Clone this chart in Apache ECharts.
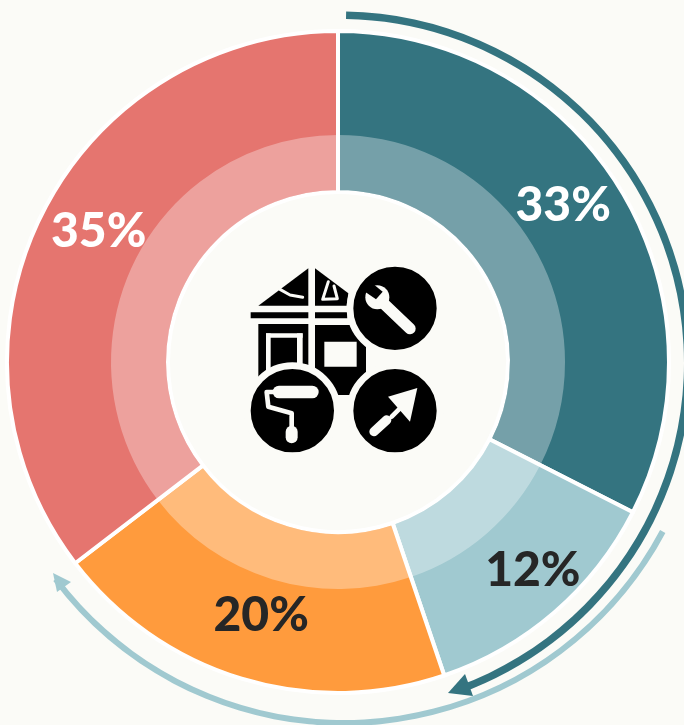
<!DOCTYPE html>
<html>
<head>
<meta charset="utf-8">
<style>
  html, body { margin: 0; padding: 0; background: #fbfbf7; }
  #main { width: 684px; height: 725px; }
</style>
<script src="https://cdn.jsdelivr.net/npm/echarts@6/dist/echarts.min.js"></script>
</head>
<body>
<div id="main"></div>
<script>
// shares, clockwise from 12 o'clock (labels are rounded)
var shares = [32.5, 12.3, 19.8, 35.4];
var colors = ['#347480', '#a0c9d0', '#ff9b3d', '#e5756f'];
var labelColors = ['#ffffff', '#262626', '#262626', '#ffffff'];
var labelNudge = [[9, -24], [29, 17], [-3, 11], [-12, -18]];

// the two arrows round the ring, in degrees: drawn span, rest of the circle
var darkArrowArc = [159, 201];
var lightArrowArc = [115, 245];

var chart = echarts.init(document.getElementById('main'));

function slices(fill) {
    return shares.map(function (v, i) {
        return { value: v, itemStyle: { color: fill ? fill : colors[i] } };
    });
}

function arrowArc(arc, color) {
    return [
        { value: arc[0], itemStyle: { color: color } },
        { value: arc[1], itemStyle: { color: 'transparent' } }
    ];
}

var ink = '#000000';
var paper = '#fbfbf7';

function poly(points, fill) {
    return { type: 'polygon', shape: { points: points }, style: { fill: fill } };
}
function stroke(points, width, color) {
    return {
        type: 'polyline',
        shape: { points: points },
        style: { stroke: color, lineWidth: width, fill: null, lineCap: 'round', lineJoin: 'round' }
    };
}
function disc(cx, cy, r) {
    return {
        type: 'circle',
        shape: { cx: cx, cy: cy, r: r + 10 },
        style: { fill: ink, stroke: paper, lineWidth: 20 }
    };
}
function box(x, y, w, h, fill, r) {
    return { type: 'rect', shape: { x: x, y: y, width: w, height: h, r: r || 0 }, style: { fill: fill } };
}

// icon is laid out on a 660 square, scaled down 3x
var icon = [
    // roof
    poly([[85, 167], [235, 55], [235, 167]], ink),
    poly([[255, 55], [355, 130], [350, 167], [255, 167]], ink),
    stroke([[150, 118], [180, 135], [218, 142]], 9, paper),
    stroke([[295, 95], [278, 148], [322, 146], [312, 108]], 9, paper),
    box(62, 187, 173, 18, ink),
    box(255, 187, 97, 18, ink),
    // walls
    poly([[85, 222], [235, 222], [235, 400], [85, 400]], ink),
    box(108, 250, 14, 150, paper),
    box(108, 250, 110, 13, paper),
    box(201, 250, 17, 150, paper),
    poly([[255, 225], [365, 225], [408, 290], [408, 375], [360, 435], [325, 435], [255, 360]], ink),
    box(283, 275, 97, 75, paper),
    // tool badges
    disc(495, 175, 125),
    disc(187, 482, 125),
    disc(495, 482, 125),
    // wrench
    stroke([[540, 236], [455, 155]], 34, paper),
    { type: 'circle', shape: { cx: 442, cy: 142, r: 36 }, style: { fill: paper } },
    poly([[425, 98], [458, 125], [438, 148], [405, 125]], ink),
    // roller
    box(128, 407, 138, 38, paper, 19),
    stroke([[130, 426], [110, 426], [115, 470], [185, 490], [185, 535]], 14, paper),
    stroke([[185, 545], [185, 562]], 36, paper),
    // trowel
    poly([[562, 414], [474, 440], [540, 515]], paper),
    stroke([[515, 470], [485, 500]], 14, paper),
    stroke([[470, 510], [432, 545]], 28, paper)
];

var option = {
    backgroundColor: paper,
    animation: false,
    series: [
        {
            type: 'pie',
            silent: true,
            center: [338, 362],
            radius: [170, 331],
            startAngle: 90,
            data: slices().map(function (d, i) {
                d.label = { color: labelColors[i] };
                return d;
            }),
            itemStyle: { borderColor: '#ffffff', borderWidth: 4 },
            label: {
                show: true,
                position: 'inside',
                formatter: function (p) { return Math.round(p.value) + '%'; },
                fontFamily: 'Lato',
                fontWeight: 900,
                fontSize: 48
            },
            labelLayout: function (p) {
                return { dx: labelNudge[p.dataIndex][0], dy: labelNudge[p.dataIndex][1] };
            },
            labelLine: { show: false },
            z: 2
        },
        {
            // paler inner band
            type: 'pie',
            silent: true,
            center: [338, 362],
            radius: [172, 227],
            startAngle: 90,
            data: slices('rgba(255,255,255,0.32)'),
            label: { show: false },
            labelLine: { show: false },
            z: 3
        },
        {
            type: 'pie',
            silent: true,
            center: [340, 363],
            radius: [344, 351.5],
            startAngle: 89,
            data: arrowArc(darkArrowArc, colors[0]),
            label: { show: false },
            labelLine: { show: false }
        },
        {
            type: 'pie',
            silent: true,
            center: [344, 362],
            radius: [358, 364],
            startAngle: -28,
            data: arrowArc(lightArrowArc, colors[1]),
            label: { show: false },
            labelLine: { show: false }
        }
    ],
    graphic: [
        poly([[448, 693], [465, 674], [473, 696]], colors[0]),
        poly([[53, 573], [57, 592], [71, 582]], colors[1]),
        { type: 'group', x: 230, y: 250, scaleX: 1 / 3, scaleY: 1 / 3, children: icon }
    ]
};

chart.setOption(option);
</script>
</body>
</html>
